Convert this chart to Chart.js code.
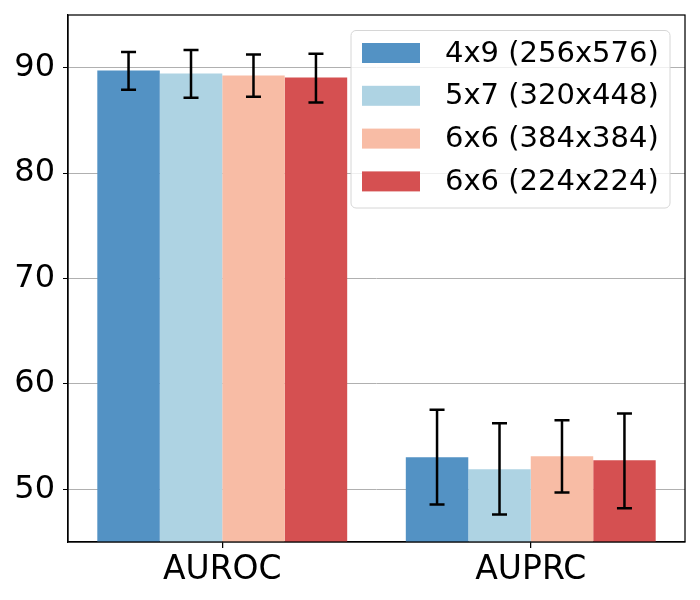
<!DOCTYPE html>
<html>
<head>
<meta charset="utf-8">
<script src="https://cdn.jsdelivr.net/npm/chart.js@4"></script>
<style>
html,body{margin:0;padding:0;background:#fff;}
#wrap{width:700px;height:600px;}
</style>
</head>
<body>
<div id="wrap"><canvas id="c" width="700" height="600"></canvas></div>
<script>
const categories = ['AUROC', 'AUPRC'];
const seriesLabels = ['4x9 (256x576)', '5x7 (320x448)', '6x6 (384x384)', '6x6 (224x224)'];
const seriesColors = ['#5392c4', '#aed3e3', '#f8bca5', '#d55051'];
const values4x9 = [89.74, 53.03];
const values5x7 = [89.46, 51.90];
const values6x6big = [89.27, 53.13];
const values6x6small = [89.08, 52.75];
const low4x9 = [87.91, 48.55];
const high4x9 = [91.49, 57.55];
const low5x7 = [87.16, 47.60];
const high5x7 = [91.69, 56.26];
const low6x6big = [87.25, 49.69];
const high6x6big = [91.26, 56.54];
const low6x6small = [86.71, 48.20];
const high6x6small = [91.33, 57.18];
const yTicks = [50, 60, 70, 80, 90];
const yMin = 45, yMax = 95;

const seriesValues = [values4x9, values5x7, values6x6big, values6x6small];
const seriesLow = [low4x9, low5x7, low6x6big, low6x6small];
const seriesHigh = [high4x9, high5x7, high6x6big, high6x6small];

const FONT = "'DejaVu Sans', sans-serif";

const errorBars = {
  id: 'errorBars',
  afterDatasetsDraw(chart) {
    const ctx = chart.ctx;
    const y = chart.scales.y;
    ctx.save();
    ctx.strokeStyle = '#000';
    ctx.lineWidth = 2.5;
    seriesValues.forEach((_, i) => {
      const meta = chart.getDatasetMeta(i);
      meta.data.forEach((el, j) => {
        const x = el.x;
        const yl = y.getPixelForValue(seriesLow[i][j]);
        const yh = y.getPixelForValue(seriesHigh[i][j]);
        ctx.beginPath();
        ctx.moveTo(x, yl); ctx.lineTo(x, yh);
        ctx.moveTo(x - 7.5, yl); ctx.lineTo(x + 7.5, yl);
        ctx.moveTo(x - 7.5, yh); ctx.lineTo(x + 7.5, yh);
        ctx.stroke();
      });
    });
    ctx.restore();
  }
};

const frameAndLegend = {
  id: 'frameAndLegend',
  afterDraw(chart) {
    const ctx = chart.ctx;
    const a = chart.chartArea;
    ctx.save();
    ctx.strokeStyle = '#000';
    ctx.lineWidth = 1.25;
    ctx.strokeRect(a.left, a.top, a.right - a.left, a.bottom - a.top);
    // legend
    const lx = 351, ly = 30.5, lw = 319, lh = 177.5, r = 5;
    ctx.beginPath();
    ctx.moveTo(lx + r, ly);
    ctx.lineTo(lx + lw - r, ly);
    ctx.arcTo(lx + lw, ly, lx + lw, ly + r, r);
    ctx.lineTo(lx + lw, ly + lh - r);
    ctx.arcTo(lx + lw, ly + lh, lx + lw - r, ly + lh, r);
    ctx.lineTo(lx + r, ly + lh);
    ctx.arcTo(lx, ly + lh, lx, ly + lh - r, r);
    ctx.lineTo(lx, ly + r);
    ctx.arcTo(lx, ly, lx + r, ly, r);
    ctx.closePath();
    ctx.fillStyle = 'rgba(255,255,255,0.8)';
    ctx.fill();
    ctx.strokeStyle = '#d6d6d6';
    ctx.lineWidth = 1;
    ctx.stroke();
    ctx.font = '29px ' + FONT;
    ctx.textBaseline = 'middle';
    ctx.textAlign = 'left';
    chart.data.datasets.forEach((ds, i) => {
      const cy = 53 + i * 42.8;
      ctx.fillStyle = ds.backgroundColor;
      ctx.fillRect(362, cy - 10, 58, 20);
      ctx.fillStyle = '#000';
      ctx.fillText(ds.label, 445, cy + 1);
    });
    ctx.restore();
  }
};

new Chart(document.getElementById('c'), {
  type: 'bar',
  data: {
    labels: categories,
    datasets: seriesLabels.map((lab, i) => ({
      label: lab,
      data: seriesValues[i],
      backgroundColor: seriesColors[i],
      borderWidth: 0,
      barPercentage: 1.0,
      categoryPercentage: 0.81
    }))
  },
  options: {
    responsive: false,
    animation: false,
    devicePixelRatio: 1,
    layout: { padding: { top: 15, right: 15, left: 0, bottom: 0 } },
    plugins: { legend: { display: false }, tooltip: { enabled: false } },
    scales: {
      x: {
        grid: { display: true, drawOnChartArea: false, drawTicks: true, offset: false, tickLength: 6, color: '#000', lineWidth: 1.25 },
        border: { display: true, color: '#000', width: 1.25 },
        ticks: { color: '#000', font: { family: FONT, size: 33 }, padding: 3 },
        afterFit(s) { s.height = 58; s.paddingLeft = 0; s.paddingRight = 0; }
      },
      y: {
        min: yMin, max: yMax,
        afterBuildTicks(s) { s.ticks = yTicks.map(v => ({ value: v })); },
        grid: { color: '#b0b0b0', lineWidth: 1, tickLength: 5, tickColor: '#000', drawTicks: true },
        border: { display: true, color: '#000', width: 1.25 },
        ticks: { color: '#000', font: { family: FONT, size: 32 }, padding: 8 },
        afterFit(s) { s.width = 68; s.paddingTop = 0; s.paddingBottom = 0; }
      }
    }
  },
  plugins: [errorBars, frameAndLegend]
});
</script>
</body>
</html>
